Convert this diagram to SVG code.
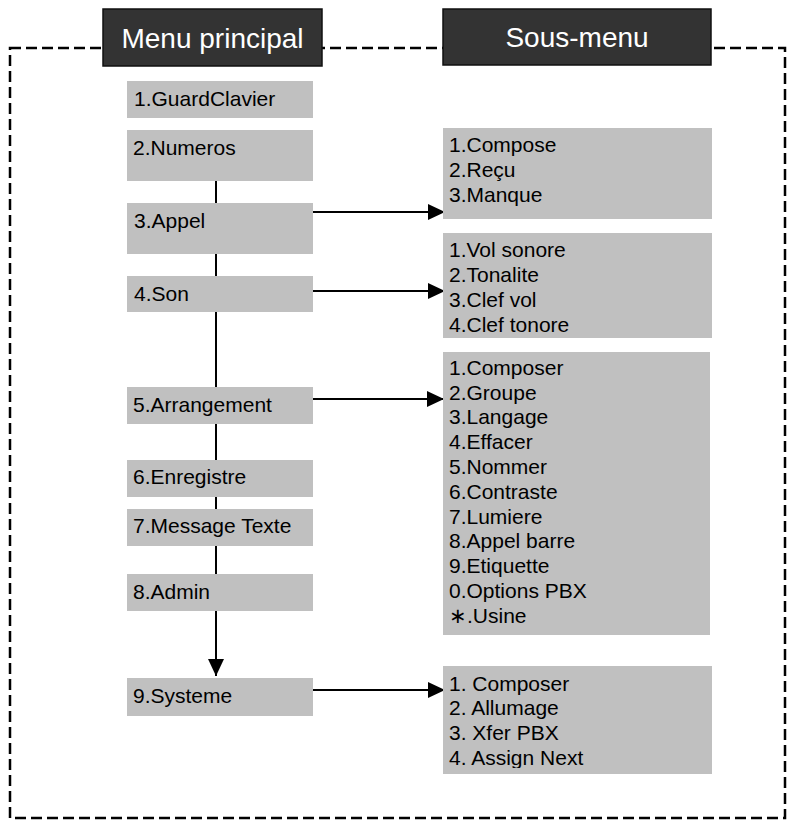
<svg xmlns="http://www.w3.org/2000/svg" width="790" height="820" viewBox="0 0 790 820">
  <style>
    .box { fill: #c0c0c0; }
    .hdr { fill: #333333; stroke: #111; stroke-width: 1.5; }
    .hdrt { fill: #ffffff; font-family: "Liberation Sans", Arial, sans-serif; font-size: 28px; text-anchor: middle; }
    .t { fill: #000; font-family: "Liberation Sans", Arial, sans-serif; font-size: 21px; }
    .ln { stroke: #000; stroke-width: 2; fill: none; }
    .frame { stroke: #000; stroke-width: 2.5; fill: none; stroke-dasharray: 11 5; }
  </style>
  <defs>
    <marker id="arr" markerWidth="17" markerHeight="16" refX="17" refY="8" orient="auto" markerUnits="userSpaceOnUse">
      <path d="M0,0 L17,8 L0,16 Z" fill="#000"/>
    </marker>
    <clipPath id="clip4"><rect x="443" y="666" width="269" height="102"/></clipPath>
  </defs>
  <rect width="790" height="820" fill="#fff"/>
  <rect class="frame" x="10" y="48" width="775" height="770"/>

  <g id="connectors">
    <line class="ln" x1="216" y1="181" x2="216" y2="676" marker-end="url(#arr)"/>
    <line class="ln" x1="313" y1="212" x2="445" y2="212" marker-end="url(#arr)"/>
    <line class="ln" x1="313" y1="291" x2="445" y2="291" marker-end="url(#arr)"/>
    <line class="ln" x1="313" y1="399" x2="444" y2="399" marker-end="url(#arr)"/>
    <line class="ln" x1="313" y1="690" x2="445" y2="690" marker-end="url(#arr)"/>
  </g>

  <g id="hdr-main">
    <rect class="hdr" x="103" y="9" width="219" height="57"/>
    <text class="hdrt" x="212.5" y="48">Menu principal</text>
  </g>
  <g id="hdr-sub">
    <rect class="hdr" x="443" y="9" width="268" height="56"/>
    <text class="hdrt" x="577" y="47">Sous-menu</text>
  </g>

  <g id="m1"><rect class="box" x="127" y="81" width="186" height="37"/><text class="t" x="134" y="106">1.GuardClavier</text></g>
  <g id="m2"><rect class="box" x="127" y="130" width="186" height="51"/><text class="t" x="133" y="155">2.Numeros</text></g>
  <g id="m3"><rect class="box" x="127" y="203" width="186" height="51"/><text class="t" x="134" y="228">3.Appel</text></g>
  <g id="m4"><rect class="box" x="127" y="276" width="186" height="36"/><text class="t" x="134" y="301">4.Son</text></g>
  <g id="m5"><rect class="box" x="127" y="387" width="186" height="37"/><text class="t" x="133" y="412">5.Arrangement</text></g>
  <g id="m6"><rect class="box" x="127" y="460" width="186" height="37"/><text class="t" x="133" y="484">6.Enregistre</text></g>
  <g id="m7"><rect class="box" x="127" y="509" width="186" height="37"/><text class="t" x="133" y="533">7.Message Texte</text></g>
  <g id="m8"><rect class="box" x="127" y="574" width="186" height="37"/><text class="t" x="133" y="599">8.Admin</text></g>
  <g id="m9"><rect class="box" x="127" y="678" width="186" height="38"/><text class="t" x="133" y="703">9.Systeme</text></g>

  <g id="s1">
    <rect class="box" x="443" y="128" width="269" height="91"/>
    <text class="t" x="449" y="152">1.Compose</text>
    <text class="t" x="449" y="177">2.Reçu</text>
    <text class="t" x="449" y="202">3.Manque</text>
  </g>
  <g id="s2">
    <rect class="box" x="443" y="233" width="269" height="105"/>
    <text class="t" x="449" y="257">1.Vol sonore</text>
    <text class="t" x="449" y="282">2.Tonalite</text>
    <text class="t" x="449" y="307">3.Clef vol</text>
    <text class="t" x="449" y="332">4.Clef tonore</text>
  </g>
  <g id="s3">
    <rect class="box" x="443" y="352" width="267" height="283"/>
    <text class="t" x="449" y="375">1.Composer</text>
    <text class="t" x="449" y="400">2.Groupe</text>
    <text class="t" x="449" y="424">3.Langage</text>
    <text class="t" x="449" y="449">4.Effacer</text>
    <text class="t" x="449" y="474">5.Nommer</text>
    <text class="t" x="449" y="499">6.Contraste</text>
    <text class="t" x="449" y="524">7.Lumiere</text>
    <text class="t" x="449" y="548">8.Appel barre</text>
    <text class="t" x="449" y="573">9.Etiquette</text>
    <text class="t" x="449" y="598">0.Options PBX</text>
    <text class="t" x="449" y="623">∗.Usine</text>
  </g>
  <g id="s4">
    <rect class="box" x="443" y="666" width="269" height="108"/>
    <g clip-path="url(#clip4)">
      <text class="t" x="449" y="691">1. Composer</text>
      <text class="t" x="449" y="715">2. Allumage</text>
      <text class="t" x="449" y="740">3. Xfer PBX</text>
      <text class="t" x="449" y="765">4. Assign Next</text>
    </g>
  </g>
</svg>
